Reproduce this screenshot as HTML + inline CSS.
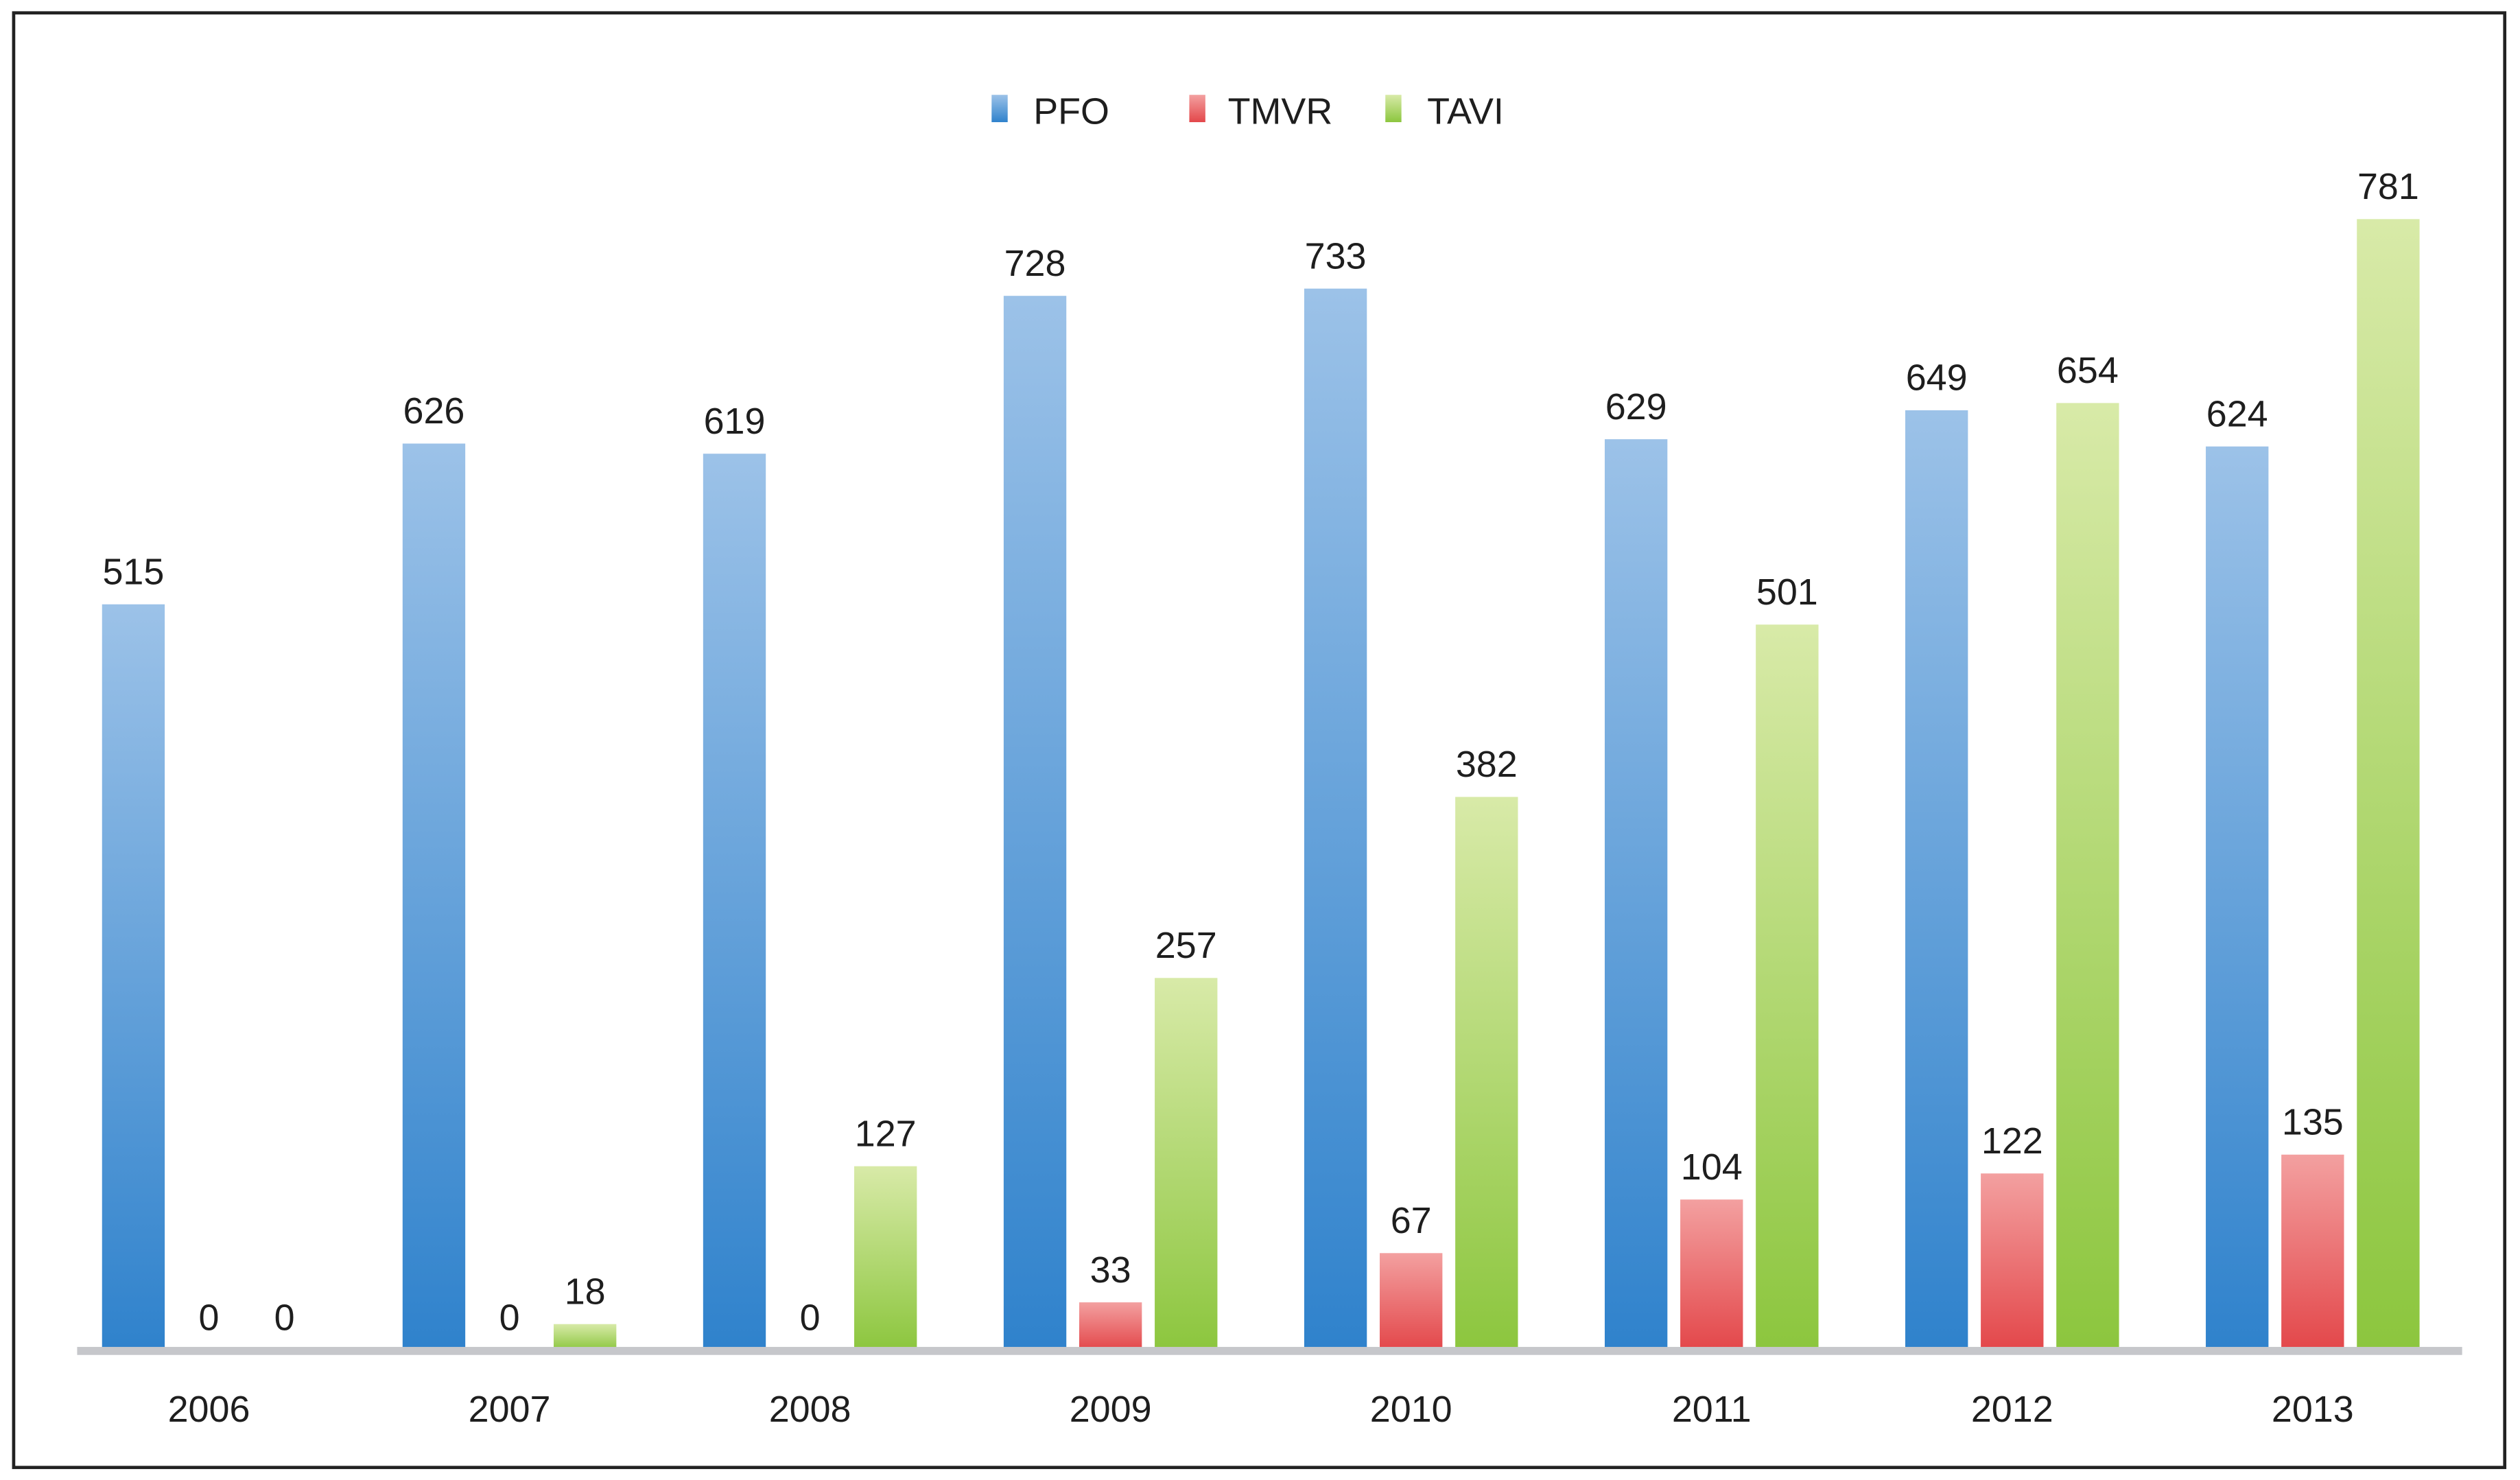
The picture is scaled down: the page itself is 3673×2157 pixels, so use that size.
<!DOCTYPE html>
<html><head><meta charset="utf-8"><style>
html,body{margin:0;padding:0;background:#fff;}
svg{display:block;}
text{font-family:"Liberation Sans",Arial,sans-serif;fill:#1e1e1e;}
</style></head><body>
<svg id="chart" width="3673" height="2157" viewBox="0 0 1568 920.8" preserveAspectRatio="none" xmlns="http://www.w3.org/2000/svg">
<defs>
<linearGradient id="gB" x1="0" y1="0" x2="0" y2="1"><stop offset="0" stop-color="#9cc2e8"/><stop offset="1" stop-color="#2f82cc"/></linearGradient>
<linearGradient id="gR" x1="0" y1="0" x2="0" y2="1"><stop offset="0" stop-color="#f3a0a0"/><stop offset="1" stop-color="#e3474a"/></linearGradient>
<linearGradient id="gG" x1="0" y1="0" x2="0" y2="1"><stop offset="0" stop-color="#d8eaa8"/><stop offset="1" stop-color="#8cc63e"/></linearGradient>
</defs>
<rect x="8.5" y="8" width="1550" height="905" fill="#fff" stroke="#222" stroke-width="2"/>
<g>
<rect x="617" y="59" width="10" height="17" fill="url(#gB)"/>
<text x="643" y="77" font-size="23">PFO</text>
<rect x="740" y="59" width="10" height="17" fill="url(#gR)"/>
<text x="764" y="77" font-size="23">TMVR</text>
<rect x="862" y="59" width="10" height="17" fill="url(#gG)"/>
<text x="888" y="77" font-size="23">TAVI</text>
</g>
<g id="bars"></g>
<rect x="48" y="838" width="1484" height="5" fill="#c6c7cb"/>
<g id="xlabels"></g>
</svg>
<script>
const categories = ["2006","2007","2008","2009","2010","2011","2012","2013"];
const pfo = [515,626,619,728,733,629,649,624];
const tmvr = [0,0,0,33,67,104,122,135];
const tavi = [0,18,127,257,382,501,654,781];

const NS = "http://www.w3.org/2000/svg";
const baseY = 840, pxPerUnit = 0.901;
const firstCenter = 130, groupStep = 187, barW = 39, offs = 47;
function xScale(i){ return firstCenter + i*groupStep; }
function yScale(v){ return baseY - v*pxPerUnit; }
const series = [
  {name:"pfo", data:pfo, fill:"url(#gB)", off:-offs},
  {name:"tmvr", data:tmvr, fill:"url(#gR)", off:0},
  {name:"tavi", data:tavi, fill:"url(#gG)", off:offs}
];
const gb = document.getElementById("bars");
const gx = document.getElementById("xlabels");
categories.forEach((c,i)=>{
  series.forEach(s=>{
    const v = s.data[i];
    const cx = xScale(i) + s.off;
    const y = yScale(v);
    if (v > 0) {
      const r = document.createElementNS(NS,"rect");
      r.setAttribute("x", cx - barW/2);
      r.setAttribute("y", y);
      r.setAttribute("width", barW);
      r.setAttribute("height", baseY - y);
      r.setAttribute("fill", s.fill);
      
      
      gb.appendChild(r);
    }
    const t = document.createElementNS(NS,"text");
    t.setAttribute("x", cx);
    t.setAttribute("y", y - 12.5);
    t.setAttribute("font-size", "23");
    t.setAttribute("text-anchor", "middle");
    t.textContent = v;
    
    
    gb.appendChild(t);
  });
  const xl = document.createElementNS(NS,"text");
  xl.setAttribute("x", xScale(i));
  xl.setAttribute("y", 884.5);
  xl.setAttribute("font-size", "23");
  xl.setAttribute("text-anchor", "middle");
  xl.textContent = c;
  
  
  gx.appendChild(xl);
});
</script>
</body></html>
